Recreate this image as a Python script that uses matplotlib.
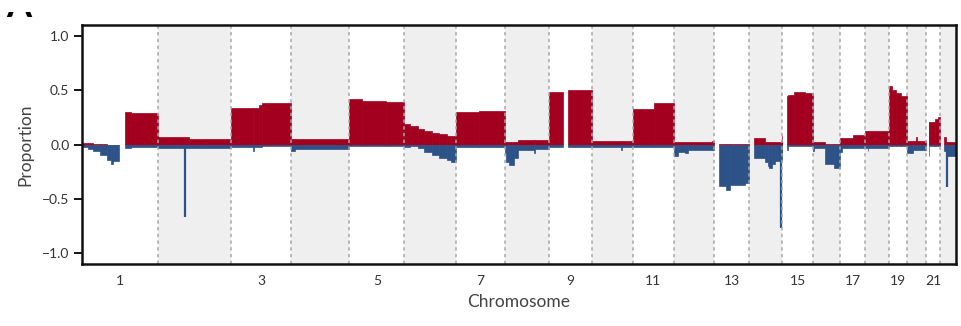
import matplotlib
matplotlib.use("Agg")
import matplotlib.pyplot as plt
from matplotlib.patches import Rectangle
import numpy as np

plt.rcParams['font.family'] = ['Lato', 'DejaVu Sans']

# ---------------- data ----------------
chrom_names = [str(i) for i in range(1, 23)]
chrom_len_mb = [249.25, 243.2, 198.0, 191.15, 180.9, 171.1, 159.1, 146.4, 141.2,
                135.5, 135.0, 133.9, 115.2, 107.3, 102.5, 90.35, 81.2, 78.1,
                59.1, 63.0, 48.1, 51.3]
tick_chroms = ['1', '3', '5', '7', '9', '11', '13', '15', '17', '19', '21']
y_ticks = [1.0, 0.5, 0.0, -0.5, -1.0]

# segments: chromosome, start (Mb), end (Mb), gain proportion, loss proportion
seg_chr = (['1'] * 9 + ['2'] * 3 + ['3'] * 5 + ['4'] * 2 + ['5'] * 3 + ['6'] * 8 +
           ['7'] * 2 + ['8'] * 7 + ['9'] * 2 + ['10'] * 3 + ['11'] * 2 + ['12'] * 5 +
           ['13'] * 4 + ['14'] * 8 + ['15'] * 4 + ['16'] * 4 + ['17'] * 3 + ['18'] * 3 +
           ['19'] * 4 + ['20'] * 4 + ['21'] * 4 + ['22'] * 3)
seg_start = [0, 20, 36, 60, 82, 95, 102, 142, 160,
             0, 105, 160,
             0, 70, 74, 90, 100,
             0, 10,
             0, 40, 120,
             0, 20, 45, 65, 90, 115, 140, 155,
             0, 75,
             0, 5, 15, 30, 45, 98, 102,
             0, 64,
             0, 97, 100,
             0, 68,
             0, 14, 37, 47, 125,
             16, 38, 50, 100,
             16, 51, 60, 66, 74, 84, 104, 106,
             17, 20, 40, 75,
             0, 3, 40, 70,
             0, 5, 40,
             0, 8, 11,
             0, 10, 25, 40,
             0, 21, 30, 34,
             9, 11, 30, 40,
             13, 17, 22]
seg_end = [20, 36, 60, 82, 95, 102, 122, 160, 249.25,
           105, 160, 243.2,
           70, 74, 90, 100, 198.0,
           10, 191.15,
           40, 120, 180.9,
           20, 45, 65, 90, 115, 140, 155, 171.1,
           75, 159.1,
           5, 15, 30, 45, 98, 102, 146.4,
           47, 141.2,
           97, 100, 135.5,
           68, 135.0,
           14, 37, 47, 125, 133.9,
           38, 50, 100, 115.2,
           51, 60, 66, 74, 84, 104, 106, 107.3,
           20, 40, 75, 102.5,
           3, 40, 70, 90.35,
           5, 40, 81.2,
           8, 11, 78.1,
           10, 25, 40, 59.1,
           21, 30, 34, 63.0,
           11, 30, 40, 48.1,
           17, 22, 51.3]
seg_gain = [0.01, 0.01, 0.005, 0.005, 0.0, 0.0, 0.0, 0.30, 0.29,
            0.07, 0.05, 0.05,
            0.335, 0.335, 0.335, 0.36, 0.385,
            0.05, 0.055,
            0.415, 0.405, 0.395,
            0.19, 0.17, 0.145, 0.125, 0.11, 0.095, 0.08, 0.075,
            0.295, 0.31,
            0.02, 0.02, 0.02, 0.02, 0.04, 0.04, 0.045,
            0.48, 0.505,
            0.03, 0.03, 0.03,
            0.325, 0.385,
            0.02, 0.02, 0.02, 0.02, 0.03,
            0.005, 0.005, 0.005, 0.005,
            0.06, 0.02, 0.02, 0.02, 0.02, 0.02, 0.03, 0.09,
            0.45, 0.46, 0.485, 0.47,
            0.025, 0.025, 0.005, 0.005,
            0.06, 0.06, 0.085,
            0.125, 0.125, 0.125,
            0.535, 0.505, 0.47, 0.45,
            0.03, 0.03, 0.07, 0.03,
            0.21, 0.21, 0.235, 0.25,
            0.07, 0.02, 0.02]
seg_loss = [-0.02, -0.04, -0.06, -0.10, -0.14, -0.18, -0.15, -0.03, -0.02,
            -0.03, -0.035, -0.03,
            -0.02, -0.06, -0.02, -0.02, -0.015,
            -0.06, -0.04,
            -0.01, -0.01, -0.015,
            -0.02, -0.015, -0.03, -0.065, -0.10, -0.12, -0.14, -0.16,
            -0.02, -0.02,
            -0.08, -0.16, -0.19, -0.12, -0.05, -0.08, -0.045,
            -0.02, -0.02,
            -0.025, -0.05, -0.025,
            -0.02, -0.02,
            -0.11, -0.065, -0.08, -0.05, -0.05,
            -0.38, -0.415, -0.37, -0.35,
            -0.12, -0.16, -0.20, -0.22, -0.18, -0.155, -0.15, -0.10,
            -0.05, -0.01, -0.01, -0.01,
            -0.06, -0.035, -0.18, -0.22,
            -0.07, -0.03, -0.03,
            -0.03, -0.06, -0.03,
            -0.01, -0.01, -0.01, -0.01,
            -0.08, -0.05, -0.05, -0.05,
            -0.11, -0.015, -0.015, -0.015,
            -0.06, -0.11, -0.11]

# narrow focal losses: chromosome, position (Mb), loss proportion
spike_chr = ['2', '14', '22']
spike_pos = [91.0, 105.5, 20.7]
spike_val = [-0.67, -0.77, -0.39]

# ---------------- plot ----------------
RED = '#A3001F'
BLUE = '#2D5288'
SHADE = '#EFEFEF'

offsets = dict(zip(chrom_names, np.concatenate([[0], np.cumsum(chrom_len_mb)[:-1]])))
ends = dict(zip(chrom_names, np.cumsum(chrom_len_mb)))
total = float(np.sum(chrom_len_mb))

fig = plt.figure(figsize=(9.61, 3.26), dpi=100)
ax = fig.add_axes([82 / 961, 1 - 264 / 326, (956 - 82) / 961, (264 - 25) / 326])

# shading of even chromosomes
for i, c in enumerate(chrom_names):
    if i % 2 == 1:
        ax.axvspan(offsets[c], ends[c], color=SHADE, lw=0, zorder=0)

x0 = np.array([offsets[c] + s for c, s in zip(seg_chr, seg_start)])
w = np.array(seg_end) - np.array(seg_start)
ax.bar(x0, seg_gain, width=w, align='edge', color=RED, edgecolor=RED, lw=0.5, zorder=2)
ax.bar(x0, seg_loss, width=w, align='edge', color=BLUE, edgecolor=BLUE, lw=0.5, zorder=2)

sx = [offsets[c] + p for c, p in zip(spike_chr, spike_pos)]
ax.vlines(sx, spike_val, 0, color=BLUE, lw=1.6, zorder=2)

# chromosome boundaries
for c in chrom_names[:-1]:
    ax.axvline(ends[c], color='#A8A8A8', lw=1.1, ls=(0, (2.2, 2.2)), zorder=3)

ax.set_xlim(0, total)
ax.set_ylim(-1.1, 1.1)
ax.set_yticks(y_ticks)
ax.set_yticklabels(['1.0', '0.5', '0.0', '\u22120.5', '\u22121.0'])
centers = [(offsets[c] + ends[c]) / 2 for c in tick_chroms]
ax.set_xticks(centers)
ax.set_xticklabels(tick_chroms)
ax.tick_params(axis='x', length=0, pad=8, labelsize=10, labelcolor='#333333')
ax.tick_params(axis='y', length=6, width=1.3, pad=3, labelsize=10, labelcolor='#333333')
for sp in ax.spines.values():
    sp.set_linewidth(1.8)
    sp.set_color('#111111')
    sp.set_zorder(5)
ax.set_xlabel('Chromosome', fontsize=12.5, color='#444444', labelpad=5)
ax.set_ylabel('Proportion', fontsize=12.5, color='#444444', labelpad=6)

fig.text(0.006, 0.947, 'A', fontsize=26, fontweight='bold', ha='left', va='baseline')
fig.patches.append(Rectangle((0, 1 - 12 / 326), 0.06, 12 / 326, transform=fig.transFigure,
                             facecolor='white', edgecolor='none', zorder=10))

fig.savefig('out.png', dpi=100)
